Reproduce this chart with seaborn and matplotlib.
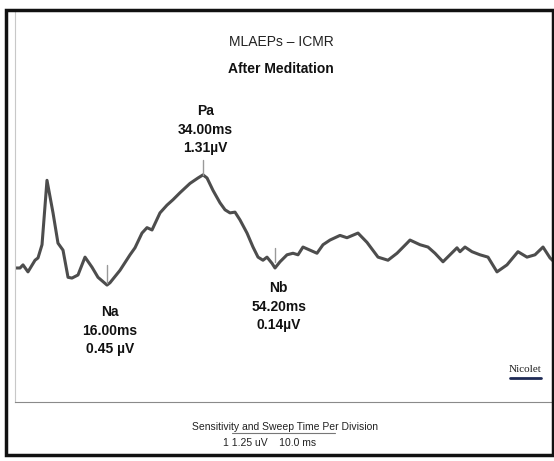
import matplotlib
matplotlib.use("Agg")
import matplotlib.pyplot as plt
import seaborn as sns
import pandas as pd
from matplotlib.patches import Rectangle
from matplotlib.lines import Line2D

# MLAEP trace: time (ms) and amplitude (uV)
time_ms = [0.0, 0.94, 1.50, 2.43, 3.75, 4.31, 5.06, 5.99, 7.12, 8.05, 8.99, 9.93,
           10.67, 11.80, 13.11, 14.42, 15.54, 17.23, 17.79, 19.66, 21.54, 22.47,
           23.78, 24.72, 25.66, 27.15, 28.46, 29.59, 30.90, 32.77, 34.27, 35.21,
           35.96, 37.08, 38.39, 39.33, 40.26, 41.20, 42.13, 43.45, 44.57, 45.51,
           46.44, 47.19, 48.13, 48.69, 49.63, 50.94, 52.06, 53.00, 53.93, 55.24,
           56.55, 57.68, 58.99, 60.86, 62.17, 64.23, 65.92, 67.98, 69.85, 71.54,
           73.41, 73.97, 75.84, 77.34, 78.65, 80.15, 81.46, 82.77, 83.33, 84.27,
           85.58, 87.08, 88.58, 90.26, 92.13, 94.19, 95.88, 97.38, 98.88, 100.19,
           100.94]
amp_uv = [-0.18, -0.18, -0.14, -0.23, -0.08, -0.05, 0.12, 0.95, 0.53, 0.14, 0.05, -0.30,
          -0.31, -0.27, -0.04, -0.17, -0.30, -0.40, -0.37, -0.21, -0.01, 0.08,
          0.27, 0.34, 0.31, 0.53, 0.63, 0.70, 0.79, 0.91, 0.98, 1.02,
          0.98, 0.82, 0.66, 0.57, 0.53, 0.54, 0.44, 0.27, 0.09, -0.04,
          -0.08, -0.04, -0.12, -0.18, -0.10, -0.01, 0.01, -0.01, 0.09, 0.05,
          0.01, 0.12, 0.18, 0.24, 0.21, 0.27, 0.15, -0.04, -0.08, 0.01,
          0.14, 0.18, 0.12, 0.09, 0.01, -0.10, -0.01, 0.08, 0.03, 0.09,
          0.03, -0.01, -0.04, -0.23, -0.14, 0.03, -0.04, -0.01, 0.09, -0.05,
          -0.10]

# peak labels: name, label text, label centre (ms, uV), marker (ms, uV top, uV bottom)
peak_names = ["Na", "Pa", "Nb"]
peak_texts = ["Na\n16.00ms\n0.45 \u00b5V", "Pa\n34.00ms\n1.31\u00b5V", "Nb\n54.20ms\n0.14\u00b5V"]
peak_label_x = [17.8, 35.6, 49.4]
peak_label_y = [-0.99, 1.60, -0.68]
peak_mark_x = [17.2, 35.2, 48.7]
peak_mark_top = [-0.14, 1.21, 0.08]
peak_mark_bot = [-0.37, 1.02, -0.10]

x_ticks = [10, 20, 30, 40, 50, 60, 70, 80, 90, 100]
y_ticks = [-1.25, 0, 1.25, 2.5]

sns.set_style("white")
plt.rcParams['font.family'] = ['Liberation Sans Narrow', 'Liberation Sans', 'DejaVu Sans']

fig = plt.figure(figsize=(5.54, 4.61), dpi=100)
ax = fig.add_axes([15 / 554, 59 / 461, 538 / 554, 390 / 461])

df = pd.DataFrame({"t": time_ms, "v": amp_uv})
sns.lineplot(data=df, x="t", y="v", ax=ax, color="#4d4d4d", linewidth=2.2, sort=False)

ax.set_xlim(0, 100.75)
ax.set_ylim(-1.907, 3.119)
ax.set_xticks(x_ticks)
ax.set_yticks(y_ticks)
ax.set_xticklabels([])
ax.set_yticklabels([])
ax.set_xlabel("")
ax.set_ylabel("")
ax.tick_params(axis="x", direction="in", length=5, color="#8a8a8a", width=1)
ax.tick_params(axis="y", direction="in", length=3, color="#bbbbbb", width=1)
for s in ["top", "right"]:
    ax.spines[s].set_visible(False)
ax.spines["left"].set_color("#c8c8c8")
ax.spines["bottom"].set_color("#8a8a8a")

for txt, lx, ly, mx, mt, mb in zip(peak_texts, peak_label_x, peak_label_y,
                                   peak_mark_x, peak_mark_top, peak_mark_bot):
    ax.text(lx, ly, txt, ha="center", va="center", fontsize=10, fontweight="bold",
            linespacing=1.4, color="#111111")
    ax.plot([mx, mx], [mb, mt], color="#999999", lw=1)

fig.text(281 / 554, 1 - 42 / 461, "MLAEPs \u2013 ICMR", ha="center", va="center",
         fontsize=10, color="#222222")
fig.text(281 / 554, 1 - 69 / 461, "After Meditation", ha="center", va="center",
         fontsize=10, fontweight="bold", color="#111111")

fig.text(285 / 554, 1 - 427 / 461, "Sensitivity and Sweep Time Per Division",
         ha="center", va="center", fontsize=7.5, color="#222222")
fig.add_artist(Line2D([232 / 554, 335 / 554], [1 - 433 / 461, 1 - 433 / 461],
                      color="#777777", lw=0.8))
fig.text(270 / 554, 1 - 443 / 461, "1 1.25 uV    10.0 ms", ha="center", va="center",
         fontsize=7.5, color="#222222")

fig.text(525 / 554, 1 - 370 / 461, "Nicolet", ha="center", va="center", fontsize=8,
         family=["Liberation Serif", "DejaVu Serif"], color="#222222")
fig.add_artist(Line2D([510 / 554, 541 / 554], [1 - 378 / 461, 1 - 378 / 461],
                      color="#1f2a55", lw=2))

fig.add_artist(Rectangle((6 / 554, 1 - 455 / 461), 547 / 554, 445 / 461,
                         fill=False, edgecolor="#111111", lw=2.5,
                         transform=fig.transFigure))

fig.savefig("out.png", dpi=100)
